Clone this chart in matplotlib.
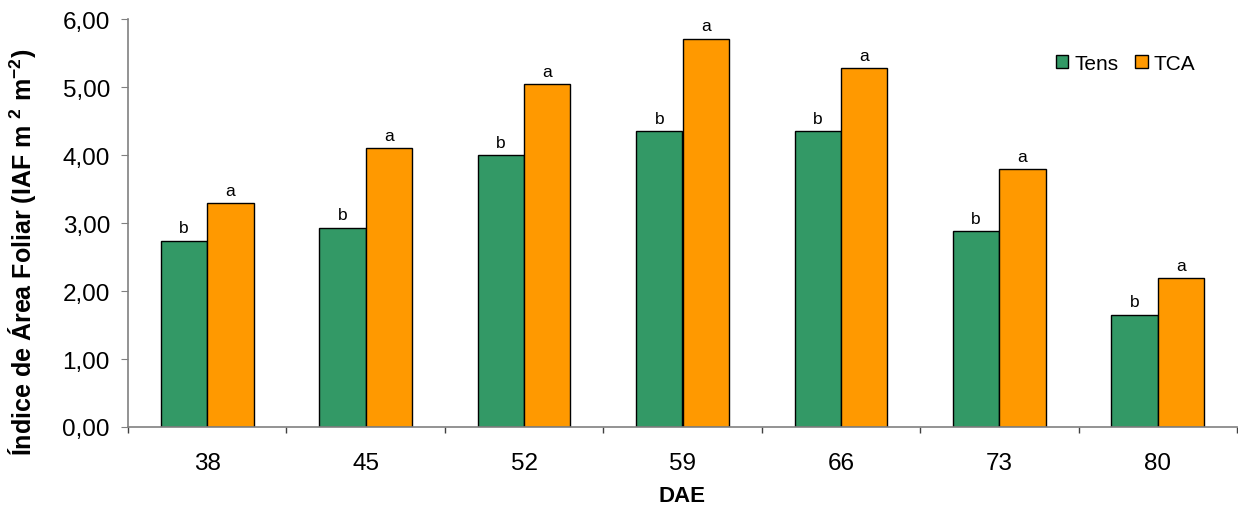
import matplotlib
matplotlib.use("Agg")
import matplotlib.pyplot as plt
import numpy as np
from matplotlib.ticker import FixedLocator, FuncFormatter

plt.rcParams['font.family'] = ['Liberation Sans', 'DejaVu Sans']
plt.rcParams['mathtext.fontset'] = 'custom'
plt.rcParams['mathtext.rm'] = 'Liberation Sans:bold'
plt.rcParams['mathtext.bf'] = 'Liberation Sans:bold'
plt.rcParams['mathtext.default'] = 'bf'

dae = ['38', '45', '52', '59', '66', '73', '80']
tens = [2.74, 2.93, 4.00, 4.35, 4.35, 2.88, 1.65]
tca = [3.29, 4.10, 5.04, 5.71, 5.28, 3.79, 2.19]
letras_tens = ['b', 'b', 'b', 'b', 'b', 'b', 'b']
letras_tca = ['a', 'a', 'a', 'a', 'a', 'a', 'a']

fig = plt.figure(figsize=(12.38, 5.06), dpi=100)
ax = fig.add_axes([128 / 1238, 1 - 428 / 506, 1 - 129 / 1238, 408 / 506])

x = np.arange(len(dae))
w = 0.293
ax.bar(x - w / 2, tens, w, color='#339966', edgecolor='black', linewidth=1.0, label='Tens')
ax.bar(x + w / 2, tca, w, color='#FF9900', edgecolor='black', linewidth=1.0, label='TCA')

for xi, v, t in zip(x, tens, letras_tens):
    ax.text(xi - w / 2, v + 0.08, t, ha='center', va='bottom', fontsize=12.5)
for xi, v, t in zip(x, tca, letras_tca):
    ax.text(xi + w / 2, v + 0.08, t, ha='center', va='bottom', fontsize=12.5)

ax.set_xlim(-0.5, len(dae) - 0.5)
ax.set_ylim(0, 6)
ax.set_yticks(np.arange(0, 6.01, 1))
ax.yaxis.set_major_formatter(FuncFormatter(lambda v, p: f'{v:.2f}'.replace('.', ',')))
ax.set_xticks(x)
ax.set_xticklabels(dae)
ax.xaxis.set_minor_locator(FixedLocator(np.arange(-0.5, len(dae), 1)))
ax.tick_params(axis='x', which='major', length=0, pad=18, labelsize=17.5)
ax.tick_params(axis='x', which='minor', length=4.5, color='#404040', width=1.0)
ax.tick_params(axis='y', length=5, color='#808080', labelsize=17.5, pad=8)

for s in ['top', 'right']:
    ax.spines[s].set_visible(False)
for s in ['left', 'bottom']:
    ax.spines[s].set_color('#808080')
    ax.spines[s].set_linewidth(1.2)

ax.set_xlabel('DAE', fontsize=16, fontweight='bold', labelpad=8)
ax.set_ylabel('Índice de Área Foliar (IAF m $^{2}$ m$^{-2}$)', fontsize=18, fontweight='bold')
ax.yaxis.set_label_coords(-0.081, 0.431)

ax.legend(loc='center', bbox_to_anchor=(0.9092, 0.8735), bbox_transform=fig.transFigure,
          ncol=2, frameon=False, fontsize=15, handlelength=0.6, handleheight=0.6,
          handletextpad=0.3, columnspacing=0.8, borderpad=0)

fig.savefig('out.png', dpi=100)
